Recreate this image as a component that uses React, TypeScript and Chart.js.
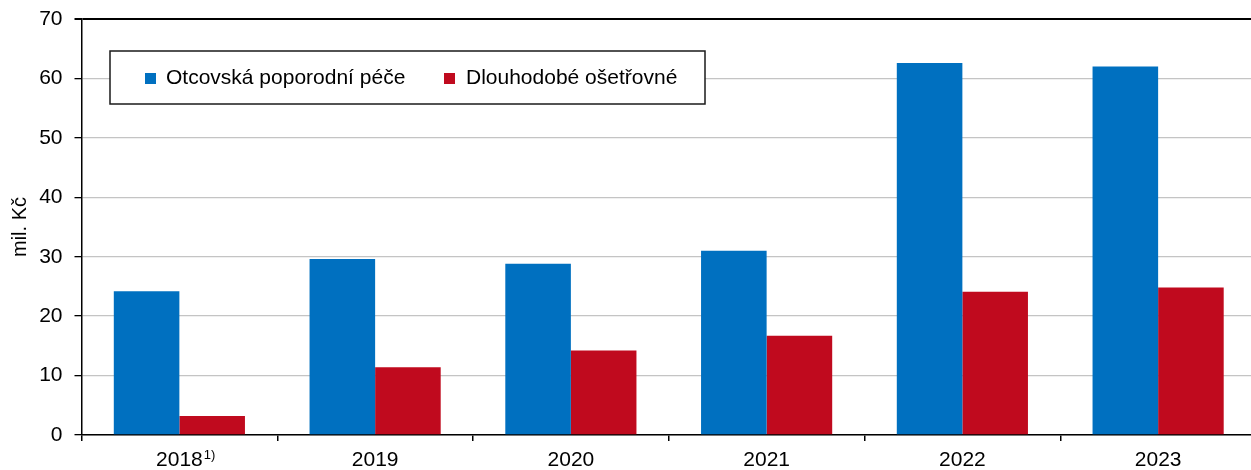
import React, { useEffect, useRef } from "react";
import { Chart, registerables } from "chart.js";

Chart.register(...registerables);

const categories = ["2018", "2019", "2020", "2021", "2022", "2023"];
const categoryNotes = ["1)", "", "", "", "", ""];
const seriesNames = ["Otcovská poporodní péče", "Dlouhodobé ošetřovné"];
const otcovska = [24.2, 29.6, 28.8, 31.0, 62.6, 62.0];
const dlouhodobe = [3.2, 11.4, 14.2, 16.7, 24.1, 24.8];
const seriesColors = ["#0070C0", "#C00A1E"];
const yTitle = "mil. Kč";
const yMin = 0;
const yMax = 70;
const yStep = 10;

const FONT = "'Liberation Sans', Arial, sans-serif";
const RIGHT_OVERFLOW = 5;

const extendPlugin = {
  id: "extendRight",
  afterLayout(chart: any) {
    const x = chart.scales.x;
    chart.chartArea.right += RIGHT_OVERFLOW;
    chart.chartArea.width += RIGHT_OVERFLOW;
    x.right += RIGHT_OVERFLOW;
    x.width += RIGHT_OVERFLOW;
    x.configure();
  },
};

const overlayPlugin = {
  id: "overlay",
  afterDraw(chart: any) {
    const ctx = chart.ctx as CanvasRenderingContext2D;
    const xScale = chart.scales.x;
    ctx.save();
    categories.forEach((c, i) => {
      const note = categoryNotes[i];
      if (!note) return;
      const cx = xScale.getPixelForValue(i);
      ctx.font = `21px ${FONT}`;
      const w = ctx.measureText(c).width;
      ctx.font = `13px ${FONT}`;
      ctx.fillStyle = "#000";
      ctx.textAlign = "left";
      ctx.textBaseline = "alphabetic";
      ctx.fillText(note, cx + w / 2 + 1, 459);
    });
    ctx.restore();

    // legend box
    ctx.save();
    const bx = 110, by = 51, bw = 595, bh = 53;
    ctx.fillStyle = "#fff";
    ctx.fillRect(bx, by, bw, bh);
    ctx.strokeStyle = "#1a1a1a";
    ctx.lineWidth = 1.5;
    ctx.strokeRect(bx, by, bw, bh);
    const cy = by + bh / 2 + 1;
    const items = [
      { sq: 145, tx: 166 },
      { sq: 444, tx: 466 },
    ];
    ctx.font = `21px ${FONT}`;
    ctx.textBaseline = "middle";
    ctx.textAlign = "left";
    chart.data.datasets.forEach((ds: any, i: number) => {
      const it = items[i];
      ctx.fillStyle = ds.backgroundColor;
      ctx.fillRect(it.sq, cy - 5.5, 11, 11);
      ctx.fillStyle = "#000";
      ctx.fillText(ds.label, it.tx, cy);
    });
    ctx.restore();
  },
};

export default function App() {
  const ref = useRef<HTMLCanvasElement | null>(null);

  useEffect(() => {
    document.body.style.margin = "0";
    if (!ref.current) return;
    const chart = new Chart(ref.current, {
      type: "bar",
      data: {
        labels: categories,
        datasets: [
          {
            label: seriesNames[0],
            data: otcovska,
            backgroundColor: seriesColors[0],
            categoryPercentage: 0.67,
            barPercentage: 1,
          },
          {
            label: seriesNames[1],
            data: dlouhodobe,
            backgroundColor: seriesColors[1],
            categoryPercentage: 0.67,
            barPercentage: 1,
          },
        ],
      },
      options: {
        responsive: false,
        animation: false,
        devicePixelRatio: 1,
        layout: { padding: { top: 19, right: 0, left: 0, bottom: 0 } },
        plugins: {
          legend: { display: false },
          tooltip: { enabled: false },
        },
        scales: {
          x: {
            grid: {
              display: true,
              drawOnChartArea: false,
              drawTicks: true,
              tickLength: 6,
              tickColor: "#000",
              lineWidth: 1.5,
              offset: true,
            },
            border: { display: true, color: "#000", width: 1.5 },
            ticks: {
              color: "#000",
              font: { family: FONT, size: 21 },
              padding: 7,
              maxRotation: 0,
            },
            afterFit(scale: any) {
              scale.height = 35;
              scale.paddingLeft = 0;
              scale.paddingRight = 0;
            },
          },
          y: {
            min: yMin,
            max: yMax,
            grid: {
              color: (c: any) => (c.tick && c.tick.value === yMax ? "#000" : "#c4c4c4"),
              lineWidth: (c: any) => (c.tick && c.tick.value === yMax ? 2 : 1.3),
              tickColor: "#000",
              tickLength: 7,
              drawTicks: true,
            },
            border: { display: true, color: "#000", width: 1.5 },
            ticks: {
              stepSize: yStep,
              color: "#000",
              font: { family: FONT, size: 21 },
              padding: 12,
            },
            title: {
              display: true,
              text: yTitle,
              color: "#000",
              font: { family: FONT, size: 20 },
              padding: { top: 8, bottom: 0 },
            },
            afterFit(scale: any) {
              scale.width = 81.5;
              scale.paddingTop = 0;
              scale.paddingBottom = 0;
            },
          },
        },
      },
      plugins: [extendPlugin, overlayPlugin],
    });
    return () => chart.destroy();
  }, []);

  return (
    <div style={{ width: 1251, height: 470 }}>
      <canvas ref={ref} width={1251} height={470} style={{ display: "block" }} />
    </div>
  );
}
